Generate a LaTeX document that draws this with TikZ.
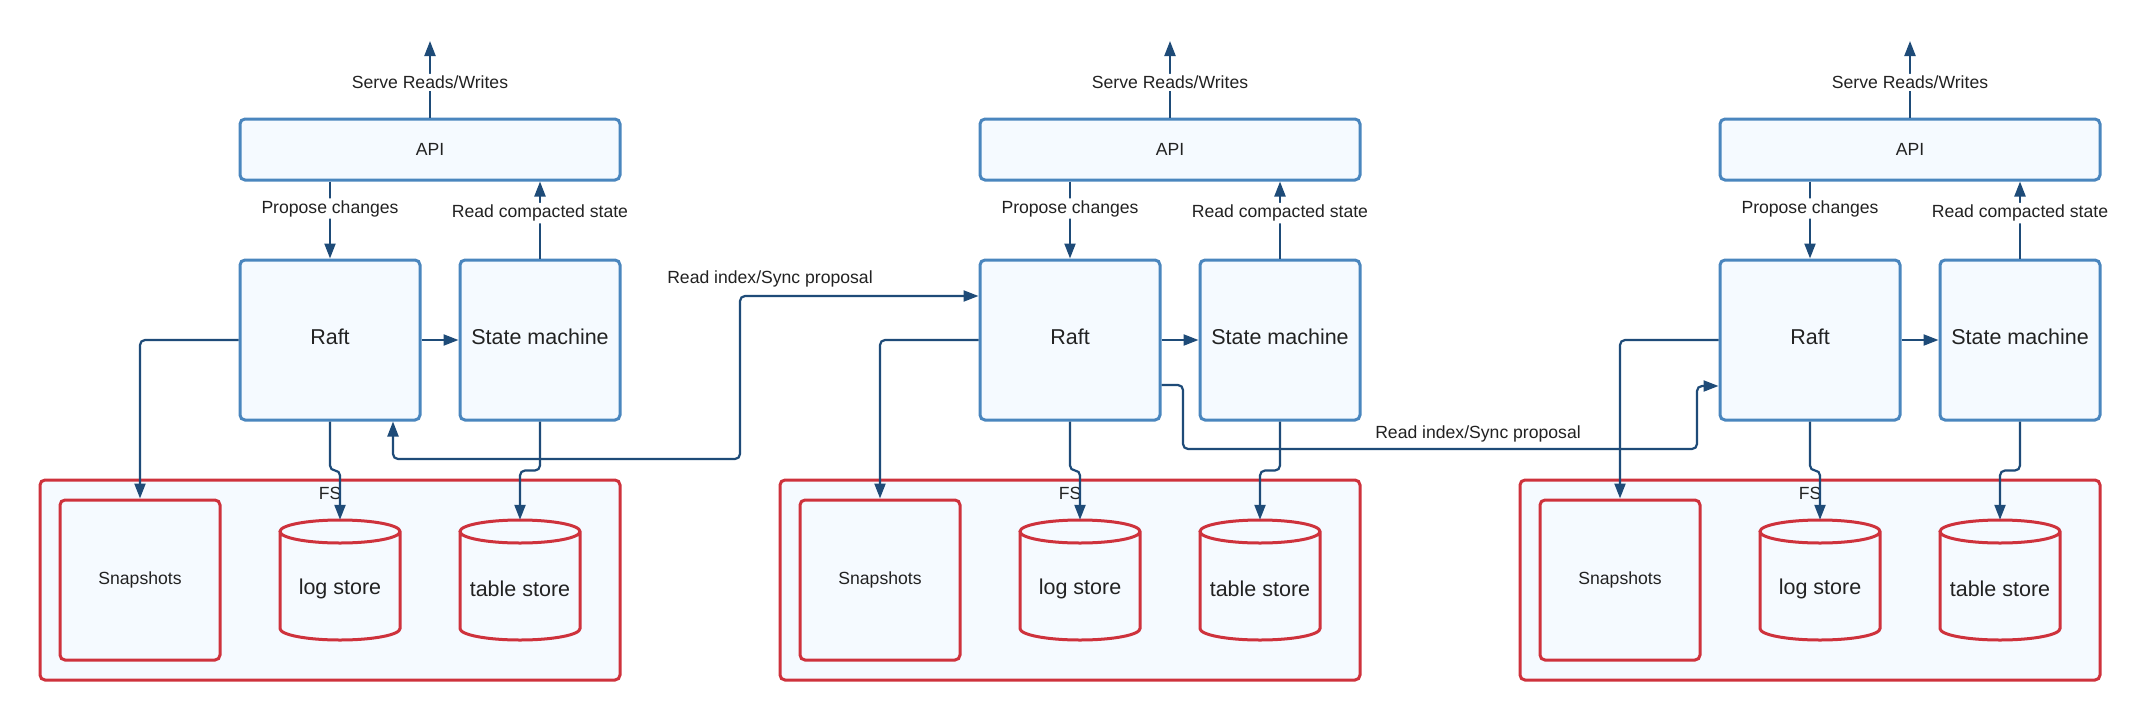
\documentclass[tikz,border=0pt]{standalone}
\usepackage{fontspec}
\setmainfont{Liberation Sans}
\usetikzlibrary{arrows.meta,calc}
\definecolor{boxblue}{RGB}{74,134,190}
\definecolor{boxfill}{RGB}{245,250,255}
\definecolor{fsred}{RGB}{206,50,60}
\definecolor{conncol}{RGB}{30,75,120}
\definecolor{txt}{RGB}{34,34,34}
\tikzset{
  bluebox/.style={draw=boxblue, fill=boxfill, line width=3pt, rounded corners=5pt, inner sep=0pt, text=txt},
  redbox/.style={draw=fsred, fill=boxfill, line width=3pt, rounded corners=5pt, inner sep=0pt, text=txt},
  bigtext/.style={font=\fontsize{21.5}{24}\selectfont},
  smalltext/.style={font=\fontsize{17.6}{20}\selectfont},
  link/.style={draw=conncol, line width=2.2pt, rounded corners=5pt, -{Triangle[length=15pt,width=11pt]}},
  dlink/.style={draw=conncol, line width=2.2pt, rounded corners=5pt, {Triangle[length=15pt,width=11pt]}-{Triangle[length=15pt,width=11pt]}},
  lbl/.style={smalltext, text=txt, fill=white, inner sep=2pt},
  plainlbl/.style={smalltext, text=txt, inner sep=0pt},
  cylnode/.style={minimum width=120pt, minimum height=120pt, inner sep=0pt},
  cyltext/.style={bigtext, text=txt, inner sep=0pt}
}
\newcommand\drawcyl[1]{%
  \fill[boxfill] ({#1-60},531.5) -- ({#1-60},628.5)
    arc[start angle=180,end angle=360,x radius=60pt,y radius=11.5pt]
    -- ({#1+60},531.5)
    arc[start angle=0,end angle=180,x radius=60pt,y radius=11.5pt] -- cycle;
  \draw[fsred, line width=3pt] ({#1-60},531.5) -- ({#1-60},628.5)
    arc[start angle=180,end angle=360,x radius=60pt,y radius=11.5pt]
    -- ({#1+60},531.5)
    arc[start angle=0,end angle=360,x radius=60pt,y radius=11.5pt];
}
\begin{document}
\begin{tikzpicture}[x=1pt,y=-1pt]
\useasboundingbox[fill=white] (0,0) rectangle (2150,720);
\foreach \i/\X in {1/0,2/740,3/1480}{
  % FS container
  \node[redbox, minimum width=580pt, minimum height=200pt] (fs\i) at (\X+330,580) {};
  \node[plainlbl] (fst\i) at (\X+330,493) {FS};
  \node[redbox, minimum width=160pt, minimum height=160pt, smalltext] (snap\i) at (\X+140,580) {Snapshots};
  \drawcyl{\X+340}
  \drawcyl{\X+520}
  \node[cylnode] (log\i) at (\X+340,580) {};
  \node[cylnode] (tab\i) at (\X+520,580) {};
  \node[cyltext] (logt\i) at (\X+340,589) {log store};
  \node[cyltext] (tabt\i) at (\X+520,589) {table store};
  % blue boxes
  \node[bluebox, minimum width=380pt, minimum height=61pt, smalltext] (api\i) at (\X+430,149.5) {API};
  \node[bluebox, minimum width=180pt, minimum height=160pt, bigtext, text depth=6pt] (raft\i) at (\X+330,340) {Raft};
  \node[bluebox, minimum width=160pt, minimum height=160pt, bigtext, text depth=6pt] (sm\i) at (\X+540,340) {State machine};
  \coordinate (top\i) at (\X+430,41);
  % connectors
  \draw[link] (api\i.north) -- (top\i) node[lbl, pos=0.46] (srv\i) {Serve Reads/Writes};
  \draw[link] (api\i.south -| raft\i.north) -- (raft\i.north) node[lbl, pos=0.35] (pc\i) {Propose changes};
  \draw[link] (sm\i.north) -- (api\i.south -| sm\i.north) node[lbl, pos=0.59] (rc\i) {Read compacted state};
  \draw[link] (raft\i.east) -- (sm\i.west);
  \draw[link] (raft\i.west) -| (snap\i.north);
  \draw[link] (raft\i.south) -- ++(0,49) -| (log\i.north);
  \draw[link] (sm\i.south) -- ++(0,49) -| (tab\i.north);
}
% inter-panel connectors
\draw[dlink] ($(raft1.south)+(63,0)$) |- (740,459) |- ($(raft2.west)+(0,-44)$);
\node[plainlbl] (ri1) at (770,279) {Read index/Sync proposal};
\draw[link] ($(raft2.east)+(0,45)$) -- (1183,385) |- (1697,449) |- ($(raft3.west)+(0,46)$);
\node[plainlbl] (ri2) at (1478,434) {Read index/Sync proposal};
\end{tikzpicture}
\end{document}
